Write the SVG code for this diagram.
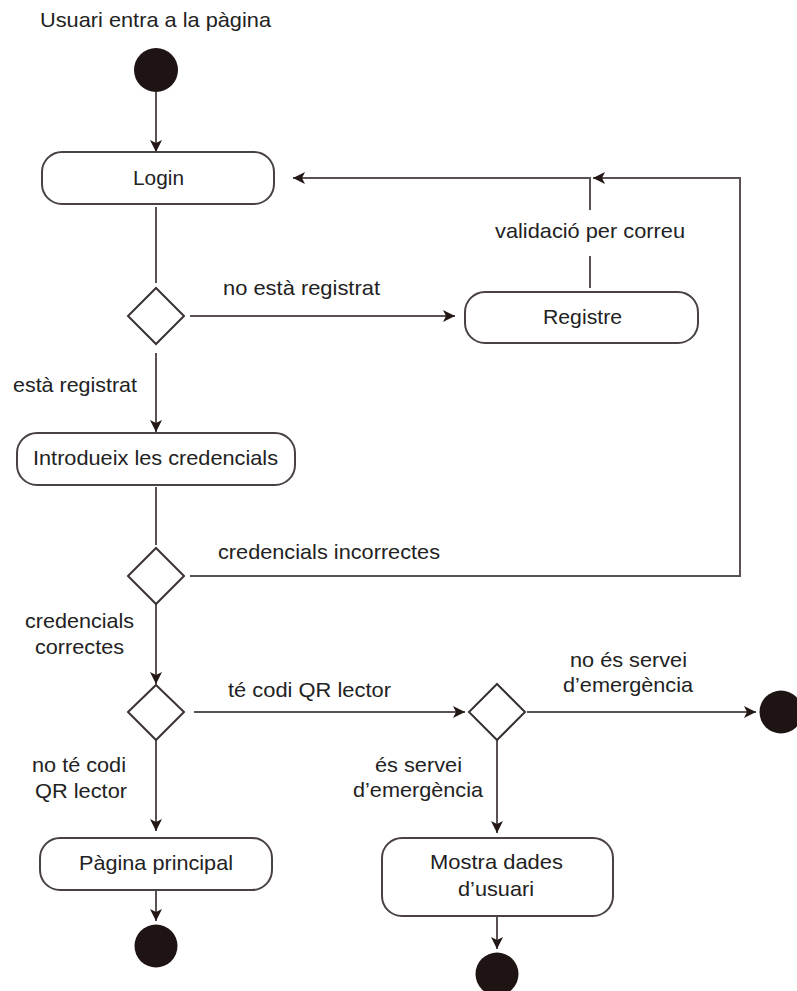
<svg xmlns="http://www.w3.org/2000/svg" width="797" height="991" viewBox="0 0 797 991">
  <style>
    .bg { fill: #ffffff; }
    .act { fill: #ffffff; stroke: #4a4242; stroke-width: 2; }
    .dec { fill: #ffffff; stroke: #3a3232; stroke-width: 2; }
    .dot { fill: #1e1414; }
    .edge { fill: none; stroke: #5a5252; stroke-width: 2; }
    text { font-family: "Liberation Sans", Arial, sans-serif; font-size: 21px; fill: #222222; }
    .c { text-anchor: middle; }
  </style>
  <defs>
    <marker id="arrow" viewBox="0 0 12 12" refX="12" refY="6" markerWidth="12" markerHeight="12" markerUnits="userSpaceOnUse" orient="auto">
      <path d="M0,0 L12,6 L0,12 L3,6 Z" fill="#231815"/>
    </marker>
  </defs>

  <rect class="bg" x="0" y="0" width="797" height="991"/>

  <text x="40" y="27" textLength="231" lengthAdjust="spacingAndGlyphs">Usuari entra a la pàgina</text>

  <!-- connectors -->
  <g id="connectors">
    <line class="edge" x1="156" y1="92" x2="156" y2="152" marker-end="url(#arrow)"/>
    <line class="edge" x1="156" y1="207" x2="156" y2="283"/>
    <line class="edge" x1="190" y1="316" x2="455" y2="316" marker-end="url(#arrow)"/>
    <line class="edge" x1="590" y1="288" x2="590" y2="256"/>
    <path class="edge" d="M590,210 V178 H293" marker-end="url(#arrow)"/>
    <line class="edge" x1="156" y1="353" x2="156" y2="432" marker-end="url(#arrow)"/>
    <line class="edge" x1="156" y1="487" x2="156" y2="545"/>
    <path class="edge" d="M190,576 H740 V178 H593" marker-end="url(#arrow)"/>
    <line class="edge" x1="156" y1="603" x2="156" y2="684" marker-end="url(#arrow)"/>
    <line class="edge" x1="194" y1="712" x2="465" y2="712" marker-end="url(#arrow)"/>
    <line class="edge" x1="527" y1="712" x2="756" y2="712" marker-end="url(#arrow)"/>
    <line class="edge" x1="497" y1="740" x2="497" y2="833" marker-end="url(#arrow)"/>
    <line class="edge" x1="497" y1="916" x2="497" y2="949" marker-end="url(#arrow)"/>
    <line class="edge" x1="156" y1="740" x2="156" y2="831" marker-end="url(#arrow)"/>
    <line class="edge" x1="156" y1="890" x2="156" y2="921" marker-end="url(#arrow)"/>

    <text class="c" x="301.5" y="295" textLength="157" lengthAdjust="spacingAndGlyphs">no està registrat</text>
    <text class="c" x="590" y="238" textLength="190" lengthAdjust="spacingAndGlyphs">validació per correu</text>
    <text class="c" x="75" y="392" textLength="124" lengthAdjust="spacingAndGlyphs">està registrat</text>
    <text class="c" x="329" y="559" textLength="222" lengthAdjust="spacingAndGlyphs">credencials incorrectes</text>
    <text class="c" x="79.5" y="628" textLength="109" lengthAdjust="spacingAndGlyphs">credencials</text>
    <text class="c" x="79.5" y="654" textLength="89" lengthAdjust="spacingAndGlyphs">correctes</text>
    <text class="c" x="309.5" y="697" textLength="163" lengthAdjust="spacingAndGlyphs">té codi QR lector</text>
    <text class="c" x="628.5" y="667" textLength="117" lengthAdjust="spacingAndGlyphs">no és servei</text>
    <text class="c" x="628" y="692" textLength="130" lengthAdjust="spacingAndGlyphs">d’emergència</text>
    <text class="c" x="418.5" y="772" textLength="87" lengthAdjust="spacingAndGlyphs">és servei</text>
    <text class="c" x="418" y="797" textLength="130" lengthAdjust="spacingAndGlyphs">d’emergència</text>
    <text class="c" x="79" y="772" textLength="94" lengthAdjust="spacingAndGlyphs">no té codi</text>
    <text class="c" x="81" y="798" textLength="92" lengthAdjust="spacingAndGlyphs">QR lector</text>
  </g>

  <!-- start -->
  <g id="start">
    <circle class="dot" cx="156" cy="70" r="22"/>
  </g>

  <g id="login">
    <rect class="act" x="42" y="152" width="232" height="52" rx="20"/>
    <text class="c" x="158.5" y="185" textLength="51" lengthAdjust="spacingAndGlyphs">Login</text>
  </g>

  <g id="dec-registrat">
    <polygon class="dec" points="156,288 184,316 156,344 128,316"/>
  </g>

  <g id="registre">
    <rect class="act" x="465" y="292" width="233" height="51" rx="20"/>
    <text class="c" x="582.5" y="324" textLength="79" lengthAdjust="spacingAndGlyphs">Registre</text>
  </g>

  <g id="credencials">
    <rect class="act" x="17" y="433" width="278" height="52" rx="20"/>
    <text class="c" x="155.5" y="465" textLength="245" lengthAdjust="spacingAndGlyphs">Introdueix les credencials</text>
  </g>

  <g id="dec-credencials">
    <polygon class="dec" points="156,548 184,576 156,604 128,576"/>
  </g>

  <g id="dec-qr">
    <polygon class="dec" points="156,685 184,712 156,740 128,712"/>
  </g>

  <g id="dec-emergencia">
    <polygon class="dec" points="497,684 525,712 497,740 469,712"/>
  </g>

  <g id="end-no-emergencia">
    <circle class="dot" cx="781" cy="712" r="21.5"/>
  </g>

  <g id="pagina-principal">
    <rect class="act" x="40" y="838" width="232" height="52" rx="20"/>
    <text class="c" x="156" y="870" textLength="154" lengthAdjust="spacingAndGlyphs">Pàgina principal</text>
  </g>

  <g id="end-pagina">
    <circle class="dot" cx="156" cy="946" r="21.5"/>
  </g>

  <g id="mostra-dades">
    <rect class="act" x="382" y="838" width="231" height="78" rx="20"/>
    <text class="c" x="496.5" y="869" textLength="133" lengthAdjust="spacingAndGlyphs">Mostra dades</text>
    <text class="c" x="496" y="896" textLength="76" lengthAdjust="spacingAndGlyphs">d’usuari</text>
  </g>

  <g id="end-mostra">
    <circle class="dot" cx="497" cy="974" r="21.5"/>
  </g>
</svg>
